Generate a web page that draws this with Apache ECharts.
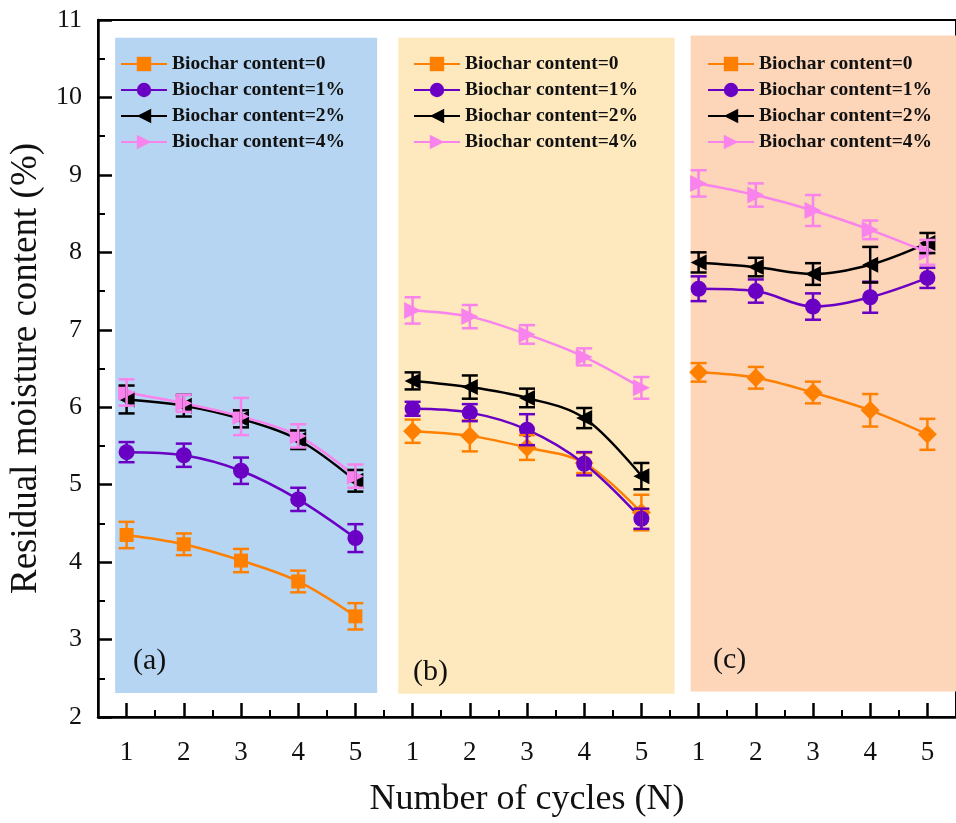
<!DOCTYPE html>
<html>
<head>
<meta charset="utf-8">
<script src="https://cdn.jsdelivr.net/npm/echarts@6/dist/echarts.min.js"></script>
<style>
  html, body { margin: 0; padding: 0; background: #fff; }
  #chart { width: 956px; height: 823px; }
</style>
</head>
<body>
<div id="chart"></div>
<script>
// 循环次数
const cycles = [1, 2, 3, 4, 5];
const tickLabels = ['1', '2', '3', '4', '5'];
const groupNames = ['Biochar content=0', 'Biochar content=1%', 'Biochar content=2%', 'Biochar content=4%'];
const panelTags = ['(a)', '(b)', '(c)'];

// panel (a)
const a0 = [4.35, 4.23, 4.02, 3.75, 3.30];
const a1 = [5.42, 5.38, 5.18, 4.81, 4.31];
const a2 = [6.10, 6.02, 5.85, 5.58, 5.05];
const a4 = [6.19, 6.05, 5.88, 5.63, 5.11];
const a0Err = [0.17, 0.14, 0.15, 0.14, 0.17];
const a1Err = [0.13, 0.15, 0.17, 0.15, 0.18];
const a2Err = [0.18, 0.14, 0.11, 0.12, 0.14];
const a4Err = [0.17, 0.11, 0.24, 0.15, 0.15];

// panel (b)
const b0 = [5.69, 5.63, 5.48, 5.28, 4.64];
const b1 = [5.98, 5.93, 5.71, 5.27, 4.56];
const b2 = [6.34, 6.26, 6.12, 5.86, 5.11];
const b4 = [7.25, 7.17, 6.94, 6.65, 6.25];
const b0Err = [0.15, 0.20, 0.16, 0.13, 0.23];
const b1Err = [0.09, 0.11, 0.20, 0.15, 0.13];
const b2Err = [0.11, 0.15, 0.12, 0.13, 0.17];
const b4Err = [0.17, 0.15, 0.12, 0.11, 0.14];

// panel (c)
const c0 = [6.45, 6.38, 6.19, 5.96, 5.65];
const c1 = [7.53, 7.50, 7.30, 7.42, 7.67];
const c2 = [7.87, 7.81, 7.72, 7.84, 8.12];
const c4 = [8.89, 8.74, 8.54, 8.29, 8.00];
const c0Err = [0.12, 0.14, 0.14, 0.21, 0.20];
const c1Err = [0.16, 0.15, 0.17, 0.20, 0.13];
const c2Err = [0.13, 0.12, 0.14, 0.23, 0.13];
const c4Err = [0.17, 0.15, 0.20, 0.12, 0.16];

const panelMeans = [[a0, a1, a2, a4], [b0, b1, b2, b4], [c0, c1, c2, c4]];
const panelErrs = [[a0Err, a1Err, a2Err, a4Err], [b0Err, b1Err, b2Err, b4Err], [c0Err, c1Err, c2Err, c4Err]];

const FONT = "'Times New Roman', 'Liberation Serif', serif";
const colors = ['#ff8000', '#6a00c4', '#000000', '#f983ec'];
const panelBg = ['#b5d5f2', '#fee9be', '#fdd5b9'];
const panelBox = [
  [0.80, 10.77, 5.38, 2.31],
  [5.75, 10.77, 10.58, 2.30],
  [10.86, 10.80, 15.6, 2.33]
];

function symbolFor(p, g) {
  if (g === 0) return p === 0 ? 'rect' : 'diamond';
  if (g === 1) return 'circle';
  return 'triangle';
}
const symbolRot = [0, 0, 90, -90];
const symbolSz = [[14, 19], [16, 16], [16, 16], [17, 17]];

function errRender(color) {
  return function (params, api) {
    const x = api.value(0);
    const top = api.coord([x, api.value(2)]);
    const bot = api.coord([x, api.value(1)]);
    const w = 8;
    const st = { stroke: color, lineWidth: 2.5 };
    return {
      type: 'group',
      children: [
        { type: 'line', shape: { x1: top[0], y1: top[1], x2: bot[0], y2: bot[1] }, style: st },
        { type: 'line', shape: { x1: top[0] - w, y1: top[1], x2: top[0] + w, y2: top[1] }, style: st },
        { type: 'line', shape: { x1: bot[0] - w, y1: bot[1], x2: bot[0] + w, y2: bot[1] }, style: st }
      ]
    };
  };
}

const series = [];
panelMeans.forEach((groups, p) => {
  groups.forEach((vals, g) => {
    const s = {
      name: groupNames[g],
      type: 'line',
      xAxisIndex: 0,
      smooth: 0.35,
      data: cycles.map((c, i) => [p * 5 + c, vals[i]]),
      symbol: symbolFor(p, g),
      symbolSize: symbolSz[g][p === 0 ? 0 : 1],
      symbolRotate: symbolRot[g],
      showAllSymbol: true,
      lineStyle: { color: colors[g], width: 2.5 },
      itemStyle: { color: colors[g] },
      z: 3
    };
    if (g === 0) {
      const b = panelBox[p];
      s.markArea = {
        silent: true,
        itemStyle: { color: panelBg[p] },
        data: [[{ xAxis: b[0], yAxis: b[1] }, { xAxis: b[2], yAxis: b[3] }]]
      };
    }
    series.push(s);
    const errs = panelErrs[p][g];
    series.push({
      type: 'custom',
      xAxisIndex: 0,
      renderItem: errRender(colors[g]),
      encode: { x: 0, y: [1, 2] },
      data: cycles.map((c, i) => [p * 5 + c, vals[i] - errs[i], vals[i] + errs[i]]),
      z: 4
    });
  });
});

const majorX = [];
const minorX = [];
for (let i = 1; i <= 15; i++) {
  majorX.push(i);
  if (i < 15) minorX.push(i + 0.5);
}

const legendLefts = [120, 413, 707];
const legends = legendLefts.map((left) => ({
  left: left,
  top: 54,
  orient: 'vertical',
  padding: 0,
  itemGap: 6,
  itemWidth: 46,
  itemHeight: 18,
  selectedMode: false,
  data: groupNames,
  textStyle: { fontFamily: FONT, fontSize: 19.5, fontWeight: 'bold', color: '#111' }
}));

const chart = echarts.init(document.getElementById('chart'));
chart.setOption({
  animation: false,
  backgroundColor: '#fff',
  grid: {
    left: 98, top: 20, width: 860, bottom: 105,
    show: true, borderColor: '#000', borderWidth: 2, backgroundColor: 'transparent'
  },
  legend: legends,
  xAxis: [
    {
      type: 'value',
      min: 0.5,
      max: 15.5,
      position: 'bottom',
      name: 'Number of cycles (N)',
      nameLocation: 'middle',
      nameGap: 65,
      nameTextStyle: { fontFamily: FONT, fontSize: 36, color: '#111' },
      axisLine: { show: true, lineStyle: { color: '#000', width: 2.5 } },
      axisTick: { show: true, inside: true, length: 14, customValues: majorX, lineStyle: { color: '#000', width: 2.5 } },
      axisLabel: {
        customValues: majorX,
        margin: 22,
        fontFamily: FONT, fontSize: 27, color: '#111',
        formatter: (v) => tickLabels[(Math.round(v) - 1) % 5]
      },
      splitLine: { show: false }
    },
    {
      type: 'value',
      min: 0.5,
      max: 15.5,
      position: 'bottom',
      axisLine: { show: false },
      axisTick: { show: true, inside: true, length: 7, customValues: minorX, lineStyle: { color: '#000', width: 2 } },
      axisLabel: { show: false },
      splitLine: { show: false }
    }
  ],
  yAxis: {
    type: 'value',
    min: 2,
    max: 11,
    interval: 1,
    name: 'Residual moisture content (%)',
    nameLocation: 'middle',
    nameGap: 38,
    nameTextStyle: { fontFamily: FONT, fontSize: 37, color: '#111' },
    axisLine: { show: true, lineStyle: { color: '#000', width: 2.5 } },
    axisTick: { show: true, inside: true, length: 14, lineStyle: { color: '#000', width: 2.5 } },
    minorTick: { show: true, splitNumber: 2, length: 7, lineStyle: { color: '#000', width: 2 } },
    axisLabel: { margin: 16, fontFamily: FONT, fontSize: 26, color: '#111' },
    splitLine: { show: false }
  },
  graphic: [
    { type: 'text', left: 133, top: 646, z: 10, style: { text: panelTags[0], font: "30px 'Times New Roman', 'Liberation Serif', serif", fill: '#111' } },
    { type: 'text', left: 413, top: 657, z: 10, style: { text: panelTags[1], font: "30px 'Times New Roman', 'Liberation Serif', serif", fill: '#111' } },
    { type: 'text', left: 713, top: 645, z: 10, style: { text: panelTags[2], font: "30px 'Times New Roman', 'Liberation Serif', serif", fill: '#111' } }
  ],
  series: series
});
</script>
</body>
</html>
